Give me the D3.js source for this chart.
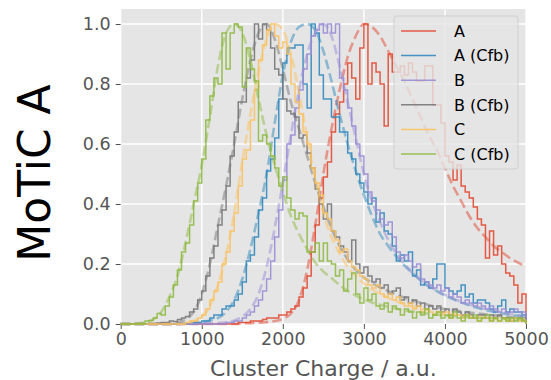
<!DOCTYPE html>
<html><head><meta charset="utf-8">
<script src="https://cdn.jsdelivr.net/npm/d3@7"></script>
<style>body{margin:0;background:#fff} svg{display:block} text{font-family:"DejaVu Sans",sans-serif}</style>
</head><body><svg id="c" width="551" height="380"></svg>
<script>
const seriesNames = ["A", "A (Cfb)", "B", "B (Cfb)", "C", "C (Cfb)"];
const seriesColors = ["#E24A33", "#348ABD", "#988ED5", "#777777", "#FBC15E", "#8EBA42"];
const binStarts = d3.range(0, 5000, 50);   // histogram bin left edges
const fitX = d3.range(0, 5001, 100);       // fit sample positions
const xTicks = [0, 1000, 2000, 3000, 4000, 5000];
const yTicks = [0, 0.2, 0.4, 0.6, 0.8, 1.0];

const histA = [
0,0,0,0,0,0,0,0,0,0,
0,0,0,0,0,0,0,0,0,0,
0,0,0,0,0,0,0,0,0,0.005,
0.005,0.005,0.01,0.01,0.01,0.015,0.02,0.02,0.02,0.03,
0.03,0.04,0.05,0.06,0.09,0.12,0.16,0.24,0.33,0.42,
0.49,0.54,0.64,0.70,0.74,0.80,0.87,0.82,0.75,0.92,
1.0,0.80,0.87,0.84,0.80,0.66,0.90,0.84,0.84,0.86,
0.83,0.87,0.84,0.81,0.81,0.86,0.86,0.73,0.73,0.67,
0.56,0.54,0.48,0.53,0.46,0.44,0.42,0.39,0.35,0.33,
0.22,0.31,0.23,0.26,0.20,0.17,0.16,0.13,0.07,0.10];
const histACfb = [
0,0,0,0,0,0,0,0,0,0,
0,0,0,0,0,0,0,0,0.005,0.005,
0.01,0.01,0.02,0.03,0.03,0.05,0.06,0.06,0.08,0.10,
0.14,0.21,0.23,0.29,0.38,0.42,0.51,0.55,0.62,0.75,
0.87,0.92,0.92,0.93,0.93,0.80,0.72,1.0,0.97,0.83,
0.75,0.75,0.69,0.69,0.64,0.64,0.57,0.55,0.50,0.47,
0.44,0.40,0.42,0.34,0.37,0.31,0.30,0.26,0.21,0.23,
0.21,0.24,0.16,0.18,0.13,0.14,0.12,0.15,0.20,0.20,
0.12,0.11,0.10,0.11,0.13,0.09,0.10,0.07,0.08,0.08,
0.07,0.05,0.04,0.06,0.08,0.04,0.05,0.04,0.04,0.03];
const histB = [
0,0,0,0,0,0,0,0,0,0,
0,0,0,0,0,0,0,0,0,0,
0,0,0,0,0,0,0.005,0.005,0.01,0.01,
0.02,0.03,0.04,0.06,0.08,0.11,0.15,0.21,0.29,0.38,
0.48,0.60,0.63,0.72,0.78,0.85,0.90,0.96,0.98,1.0,
0.97,1.0,0.97,1.0,0.82,0.78,0.72,0.66,0.60,0.56,
0.50,0.44,0.41,0.38,0.35,0.33,0.34,0.29,0.24,0.22,
0.23,0.21,0.19,0.20,0.15,0.14,0.13,0.12,0.13,0.11,
0.12,0.09,0.10,0.09,0.07,0.08,0.07,0.06,0.07,0.06,
0.05,0.06,0.05,0.04,0.05,0.04,0.04,0.05,0.04,0.04];
const histBCfb = [
0,0,0,0,0,0,0,0,0,0.003,
0.005,0.005,0.01,0.008,0.015,0.02,0.025,0.04,0.05,0.08,
0.11,0.16,0.22,0.26,0.33,0.38,0.46,0.56,0.64,0.74,
0.74,0.82,0.88,1.0,0.95,1.0,0.98,0.92,0.85,0.83,
0.75,0.71,0.70,0.69,0.62,0.63,0.57,0.52,0.45,0.40,
0.35,0.40,0.31,0.29,0.26,0.24,0.21,0.28,0.20,0.17,
0.19,0.16,0.14,0.15,0.12,0.13,0.10,0.11,0.12,0.08,
0.09,0.07,0.08,0.06,0.07,0.05,0.06,0.05,0.06,0.04,
0.05,0.03,0.05,0.04,0.03,0.04,0.03,0.02,0.03,0.03,
0.02,0.03,0.02,0.03,0.02,0.02,0.01,0.02,0.02,0.01];
const histC = [
0,0,0,0,0,0,0,0,0,0,
0,0,0,0,0,0,0.005,0.01,0.01,0.02,
0.03,0.05,0.08,0.11,0.14,0.20,0.24,0.31,0.37,0.46,
0.55,0.58,0.68,0.78,0.88,0.93,0.98,1.0,0.96,0.92,
0.94,0.90,0.80,0.74,0.70,0.64,0.60,0.52,0.47,0.43,
0.37,0.35,0.31,0.28,0.24,0.25,0.21,0.19,0.18,0.16,
0.15,0.13,0.12,0.13,0.10,0.09,0.10,0.08,0.09,0.07,
0.06,0.07,0.05,0.06,0.04,0.05,0.04,0.03,0.04,0.03,
0.04,0.02,0.03,0.03,0.02,0.03,0.02,0.02,0.01,0.02,
0.02,0.01,0.02,0.01,0.02,0.01,0.01,0.02,0.01,0.01];
const histCCfb = [
0,0,0,0,0,0,0.01,0.012,0.02,0.035,
0.03,0.06,0.09,0.13,0.18,0.24,0.27,0.33,0.41,0.47,
0.55,0.68,0.76,0.82,0.80,0.97,0.85,0.97,1.0,0.99,
0.79,0.92,0.85,0.81,0.61,0.63,0.60,0.56,0.52,0.46,
0.49,0.42,0.38,0.35,0.37,0.36,0.24,0.24,0.27,0.21,
0.27,0.21,0.20,0.16,0.18,0.11,0.15,0.17,0.10,0.07,
0.12,0.08,0.10,0.06,0.05,0.07,0.04,0.06,0.05,0.03,
0.05,0.04,0.02,0.04,0.03,0.05,0.02,0.03,0.04,0.02,
0.03,0.02,0.04,0.02,0.01,0.03,0.02,0.03,0.01,0.02,
0.03,0.01,0.02,0.01,0.02,0.01,0.02,0.01,0.02,0.01];

const fitA = [0,0,0,0,0,0,0,0,0,0,0,0,0,0,0,
0.002,0.003,0.004,0.006,0.01,0.017,0.035,0.08,0.18,0.33,
0.50,0.65,0.78,0.89,0.96,1.0,0.99,0.96,0.91,0.86,
0.81,0.75,0.69,0.63,0.58,0.52,0.46,0.41,0.36,0.32,
0.29,0.26,0.24,0.22,0.205,0.19];
const fitACfb = [0,0,0,0,0,0,0,0,0.002,0.004,0.007,
0.012,0.02,0.04,0.08,0.15,0.25,0.37,0.50,0.67,0.83,
0.94,0.99,1.0,0.98,0.91,0.81,0.70,0.60,0.51,0.43,
0.36,0.30,0.26,0.225,0.195,0.17,0.145,0.125,0.11,0.095,
0.083,0.072,0.062,0.054,0.047,0.041,0.036,0.031,0.027,0.024];
const fitB = [0,0,0,0,0,0,0,0,0,0,0.001,0.002,
0.003,0.006,0.012,0.025,0.05,0.10,0.19,0.32,0.47,0.63,
0.78,0.90,0.97,1.0,0.96,0.86,0.74,0.62,0.50,0.41,
0.34,0.28,0.235,0.20,0.17,0.147,0.127,0.111,0.097,0.085,
0.074,0.065,0.057,0.05,0.044,0.039,0.034,0.03,0.027];
const fitBCfb = [0,0,0,0,0,0,0,
0.005,0.015,0.04,0.10,0.20,0.33,0.46,0.60,0.75,0.88,
0.97,1.0,0.95,0.85,0.74,0.65,0.56,0.47,0.39,0.32,
0.26,0.215,0.18,0.155,0.137,0.122,0.11,0.098,0.088,0.079,
0.071,0.063,0.056,0.05,0.046,0.042,0.038,0.035,0.032,0.029,
0.026,0.023,0.021,0.019];
const fitC = [0,0,0,0,0,0,0,0,0,
0.01,0.025,0.06,0.13,0.23,0.37,0.54,0.70,0.84,0.95,
1.0,0.98,0.90,0.77,0.62,0.48,0.37,0.29,0.235,0.19,
0.16,0.135,0.115,0.10,0.087,0.076,0.066,0.058,0.051,0.045,
0.04,0.036,0.032,0.029,0.026,0.024,0.022,0.02,0.018,0.016,
0.015,0.014];
const fitCCfb = [0,0,0.002,0.006,0.015,0.04,0.09,0.16,0.27,0.40,
0.53,0.69,0.86,0.97,1.0,0.97,0.88,0.75,0.63,0.53,
0.44,0.36,0.30,0.25,0.205,0.175,0.153,0.13,0.11,0.095,
0.082,0.072,0.064,0.057,0.051,0.046,0.042,0.038,0.034,0.031,
0.028,0.026,0.024,0.022,0.021,0.02,0.019,0.018,0.017,0.016,0.015];

const hists = [histA, histACfb, histB, histBCfb, histC, histCCfb];
const fits = [fitA, fitACfb, fitB, fitBCfb, fitC, fitCCfb];

const svg = d3.select("#c");
const x = d3.scaleLinear().domain([0, 5000]).range([120.7, 526]);
const y = d3.scaleLinear().domain([0, 1.05]).range([324, 9]);

svg.append("rect").attr("x", x(0)).attr("y", y(1.05))
  .attr("width", x(5000) - x(0)).attr("height", y(0) - y(1.05)).attr("fill", "#E5E5E5");

// grid
const grid = svg.append("g");
grid.selectAll(".gx").data(xTicks).join("line")
  .attr("x1", d => x(d)).attr("x2", d => x(d)).attr("y1", y(0)).attr("y2", y(1.05))
  .attr("stroke", "#fff").attr("stroke-width", 1.4);
grid.selectAll(".gy").data(yTicks).join("line")
  .attr("x1", x(0)).attr("x2", x(5000)).attr("y1", d => y(d)).attr("y2", d => y(d))
  .attr("stroke", "#fff").attr("stroke-width", 1.4);

// axes
const xAxis = svg.append("g").attr("transform", `translate(0,${y(0)})`)
  .call(d3.axisBottom(x).tickValues(xTicks).tickSize(5).tickPadding(4).tickFormat(d3.format("d")));
const yAxis = svg.append("g").attr("transform", `translate(${x(0)},0)`)
  .call(d3.axisLeft(y).tickValues(yTicks).tickSize(5).tickPadding(5).tickFormat(d3.format(".1f")));
[xAxis, yAxis].forEach(a => {
  a.select(".domain").remove();
  a.selectAll(".tick line").attr("stroke", "#555555").attr("stroke-width", 1);
  a.selectAll(".tick text").attr("fill", "#555555").attr("font-size", 17.5)
    .attr("font-family", "DejaVu Sans");
});

const stepLine = d3.line().x(d => x(d[0])).y(d => y(d[1])).curve(d3.curveStepAfter);
const fitLine = d3.line().x((d, i) => x(fitX[i])).y(d => y(d)).curve(d3.curveMonotoneX);

const plot = svg.append("g");
hists.forEach((h, s) => {
  const pts = [[0, 0]].concat(binStarts.map((b, i) => [b, h[i]]))
    .concat([[5000, h[h.length - 1]], [5000, 0]]);
  plot.append("path").attr("d", stepLine(pts)).attr("fill", "none")
    .attr("stroke", seriesColors[s]).attr("stroke-width", 1.5).attr("stroke-opacity", 0.9);
  plot.append("path").attr("d", fitLine(fits[s])).attr("fill", "none")
    .attr("stroke", seriesColors[s]).attr("stroke-width", 2.6).attr("stroke-opacity", 0.5)
    .attr("stroke-dasharray", "9.6,4.2");
});

// legend
const lg = svg.append("g");
lg.append("rect").attr("x", 394).attr("y", 16).attr("width", 124).attr("height", 153).attr("rx", 3)
  .attr("fill", "#E5E5E5").attr("fill-opacity", 0.8).attr("stroke", "#CCCCCC").attr("stroke-opacity", 0.8);
seriesNames.forEach((n, i) => {
  const yy = 31 + i * 24.6;
  lg.append("line").attr("x1", 401).attr("x2", 436).attr("y1", yy).attr("y2", yy)
    .attr("stroke", seriesColors[i]).attr("stroke-width", 1.5).attr("stroke-opacity", 0.9);
  lg.append("text").attr("x", 454).attr("y", yy).attr("dy", "0.36em").attr("font-size", 16)
    .attr("fill", "#000").text(n);
});

svg.append("text").attr("x", (x(0) + x(5000)) / 2).attr("y", 376).attr("text-anchor", "middle")
  .attr("font-size", 22).attr("fill", "#555555").text("Cluster Charge / a.u.");
svg.append("text").attr("transform", "translate(50,173) rotate(-90)").attr("text-anchor", "middle")
  .attr("font-size", 44).attr("fill", "#000").text("MoTiC A");
</script></body></html>
